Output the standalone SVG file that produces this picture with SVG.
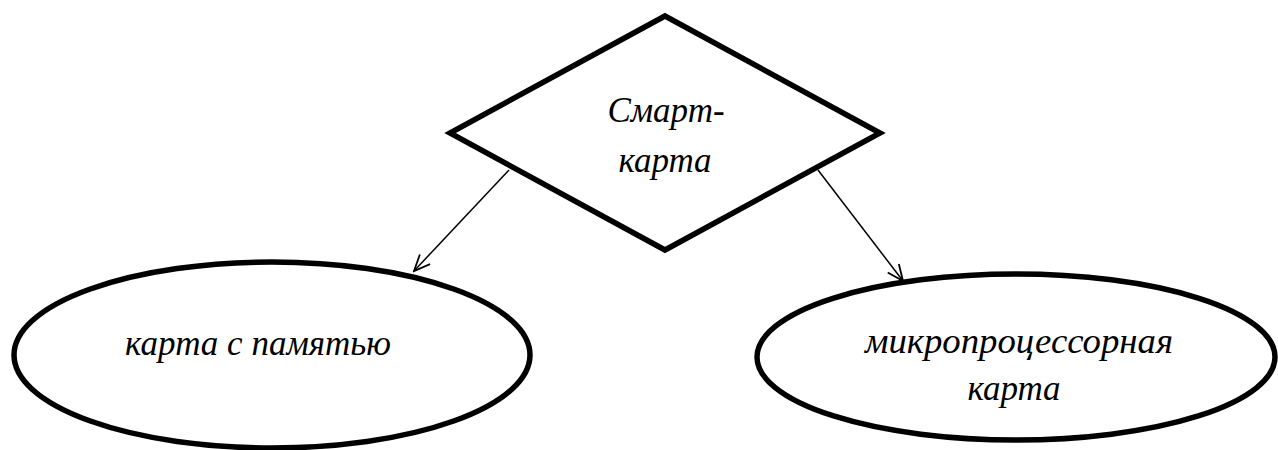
<svg xmlns="http://www.w3.org/2000/svg" width="1278" height="450" viewBox="0 0 1278 450">
<style>
.shape{fill:#fff;stroke:#000;stroke-width:5.5;stroke-linejoin:miter}
.lbl{font-family:'Liberation Serif','Times New Roman',serif;font-style:italic;font-size:35px;fill:#000;text-anchor:middle}
.conn{stroke:#000;stroke-width:1.5;fill:none;marker-end:url(#arr)}
</style>
<defs>
<marker id="arr" viewBox="0 0 20 20" refX="18" refY="10" markerWidth="20" markerHeight="20" markerUnits="userSpaceOnUse" orient="auto">
<path d="M2,3 L18,10 L2,17" fill="none" stroke="#000" stroke-width="1.8"/>
</marker>
</defs>
<rect width="1278" height="450" fill="#fff"/>
<g id="connectors">
<line class="conn" x1="509" y1="170" x2="414" y2="271"/>
<line class="conn" x1="818" y1="170" x2="903" y2="281"/>
</g>
<g id="smart-card">
<polygon class="shape" points="665,16 880,133 665,250 450,133"/>
<text class="lbl" x="666" y="122">Смарт-</text>
<text class="lbl" x="665" y="172">карта</text>
</g>
<g id="memory-card">
<ellipse class="shape" cx="272" cy="355" rx="258" ry="93"/>
<text class="lbl" x="258" y="355">карта с памятью</text>
</g>
<g id="micro-card">
<ellipse class="shape" cx="1016" cy="357" rx="259" ry="83"/>
<text class="lbl" x="1019" y="353" textLength="308" lengthAdjust="spacingAndGlyphs">микропроцессорная</text>
<text class="lbl" x="1014" y="400">карта</text>
</g>
</svg>
